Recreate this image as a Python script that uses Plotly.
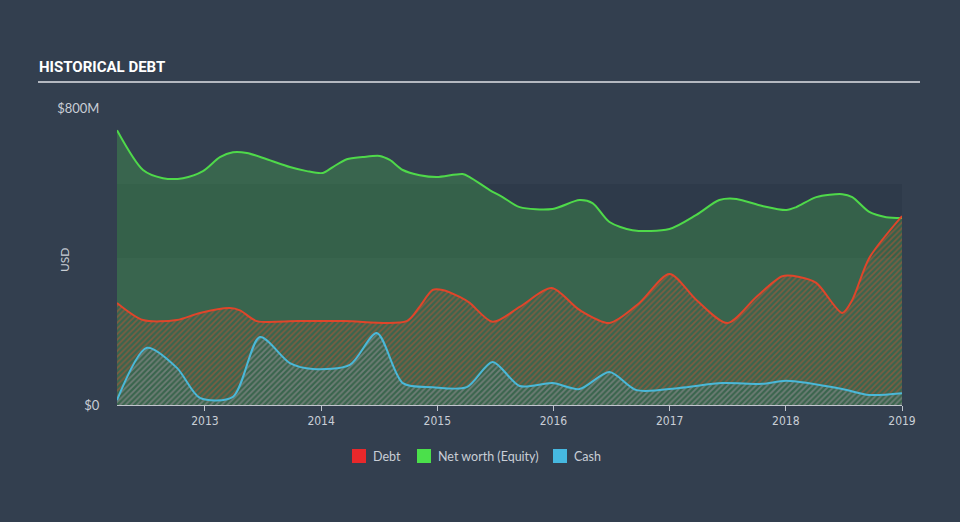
import plotly.graph_objects as go

# ---- data (decimal years, values in $M) ----
equity_x = [2012.243, 2012.467, 2012.639, 2012.811, 2012.983, 2013.129, 2013.241, 2013.361,
            2013.533, 2013.731, 2013.877, 2014.015, 2014.101, 2014.221, 2014.359, 2014.505,
            2014.591, 2014.703, 2014.849, 2014.995, 2015.218, 2015.279, 2015.451, 2015.562,
            2015.709, 2015.992, 2016.224, 2016.336, 2016.482, 2016.680, 2016.998, 2017.230,
            2017.428, 2017.574, 2017.798, 2018.004, 2018.090, 2018.262, 2018.486, 2018.572,
            2018.718, 2018.864, 2019.000]
equity_y = [740, 633, 611, 611, 630, 668, 681, 679,
            662, 641, 630, 625, 641, 662, 668, 671,
            660, 633, 619, 614, 622, 614, 579, 560,
            533, 528, 552, 544, 493, 471, 474, 512,
            552, 555, 536, 525, 533, 560, 568, 560,
            520, 506, 504]

debt_x = [2012.243, 2012.467, 2012.759, 2012.957, 2013.215, 2013.301, 2013.447, 2013.800,
          2014.200, 2014.737, 2014.849, 2014.960, 2015.046, 2015.193, 2015.279, 2015.476,
          2015.709, 2015.984, 2016.224, 2016.482, 2016.740, 2016.998, 2017.230, 2017.497,
          2017.746, 2017.970, 2018.116, 2018.262, 2018.486, 2018.572, 2018.718, 2019.000]
debt_y = [275, 229, 229, 248, 261, 255, 226, 226,
          226, 226, 265, 310, 310, 291, 275, 224,
          264, 315, 256, 221, 275, 353, 283, 221,
          291, 347, 345, 329, 248, 283, 396, 509]

cash_x = [2012.243, 2012.501, 2012.759, 2012.957, 2013.241, 2013.473, 2013.731, 2013.929,
          2014.247, 2014.479, 2014.703, 2014.960, 2015.253, 2015.476, 2015.709, 2015.992,
          2016.224, 2016.482, 2016.715, 2017.084, 2017.454, 2017.798, 2018.004, 2018.486,
          2018.718, 2019.000]
cash_y = [13, 154, 100, 19, 22, 183, 113, 97,
          108, 194, 59, 48, 48, 116, 51, 59,
          43, 89, 40, 46, 59, 57, 65, 43,
          27, 32]

year_ticks = [2013, 2014, 2015, 2016, 2017, 2018, 2019]
year_labels = ["2013", "2014", "2015", "2016", "2017", "2018", "2019"]
y_ticks = [0, 800]
y_labels = ["$0", "$800M"]
legend_names = ["Debt", "Net worth (Equity)", "Cash"]
legend_colors = ["#e8282b", "#4be04b", "#46b8e0"]

BG = "#333f4f"
GREEN = "#4fd94a"
RED = "#e0452a"
CYAN = "#4ab8d8"
TXT = "#c9ced6"

# plot-area geometry helpers (pixels -> paper)
L, R, T, B = 117, 58, 108, 117
PW, PH = 960 - L - R, 522 - T - B


def px(x):
    return (x - L) / PW


def py(y):
    return (522 - B - y) / PH


fig = go.Figure()
spl = dict(shape="spline", smoothing=0.8)

fig.add_trace(go.Scatter(
    x=equity_x, y=equity_y, mode="lines",
    line=dict(color=GREEN, width=2, **spl),
    fill="tozeroy", fillcolor="rgba(76,217,76,0.25)",
    showlegend=False, hoverinfo="skip"))

fig.add_trace(go.Scatter(
    x=debt_x, y=debt_y, mode="lines",
    line=dict(color=RED, width=2, **spl),
    fill="tozeroy", fillcolor="rgba(0,0,0,0)",
    fillpattern=dict(shape="/", fgcolor="rgba(224,80,45,0.85)", bgcolor="rgba(0,0,0,0)",
                     size=4, solidity=0.4),
    showlegend=False, hoverinfo="skip"))

fig.add_trace(go.Scatter(
    x=cash_x, y=cash_y, mode="lines",
    line=dict(color=CYAN, width=2, **spl),
    fill="tozeroy", fillcolor="rgba(0,0,0,0)",
    fillpattern=dict(shape="/", fgcolor="rgba(74,184,216,0.75)", bgcolor="rgba(0,0,0,0)",
                     size=4, solidity=0.4),
    showlegend=False, hoverinfo="skip"))

# subtle darker band
fig.add_shape(type="rect", xref="paper", yref="y", x0=0, x1=1, y0=396, y1=595,
              fillcolor="rgba(20,28,40,0.12)", line=dict(width=0), layer="below")

# manual legend
leg_sq_x = [352, 417, 553]
for xs, name, col in zip(leg_sq_x, legend_names, legend_colors):
    fig.add_shape(type="rect", xref="paper", yref="paper",
                  x0=px(xs), x1=px(xs + 14), y0=py(463), y1=py(449),
                  fillcolor=col, line=dict(width=0))
    fig.add_annotation(text=name, xref="paper", yref="paper",
                       x=px(xs + 19), y=py(456), xanchor="left", yanchor="middle",
                       showarrow=False,
                       font=dict(family="Lato, Open Sans, sans-serif", size=12.5, color=TXT))

# title + rule
fig.add_annotation(text="<b>HISTORICAL DEBT</b>", xref="paper", yref="paper",
                   x=px(37), y=py(67), xanchor="left", yanchor="middle",
                   showarrow=False,
                   font=dict(family="Roboto, Liberation Sans, sans-serif",
                             size=15, color="#ffffff"))
fig.add_shape(type="line", xref="paper", yref="paper",
              x0=px(38), x1=px(920), y0=py(82), y1=py(82),
              line=dict(color="#b4b8c0", width=2))
fig.add_annotation(text="USD", xref="paper", yref="paper",
                   x=px(64), y=py(260), textangle=-90,
                   showarrow=False, xanchor="center", yanchor="middle",
                   font=dict(family="Lato, Open Sans, sans-serif", size=12, color=TXT))

fig.update_layout(
    width=960, height=522,
    margin=dict(l=L, r=R, t=T, b=B),
    paper_bgcolor=BG, plot_bgcolor=BG,
    showlegend=False,
    xaxis=dict(range=[2012.243, 2019.0], tickvals=year_ticks, ticktext=year_labels,
               showgrid=False, zeroline=False, showline=True, linecolor="#c0c5cd", linewidth=1,
               ticks="outside", ticklen=5, tickcolor="#c0c5cd",
               tickfont=dict(family="Liberation Sans Narrow, DejaVu Sans Condensed, sans-serif",
                             size=12, color=TXT)),
    yaxis=dict(range=[0, 800], tickvals=y_ticks, ticktext=y_labels,
               showgrid=False, zeroline=False, showline=False,
               ticks="outside", ticklen=14, tickcolor="rgba(0,0,0,0)",
               tickfont=dict(family="Lato, Open Sans, sans-serif", size=13, color=TXT)),
    hovermode=False,
)

fig.write_html("out.html")
